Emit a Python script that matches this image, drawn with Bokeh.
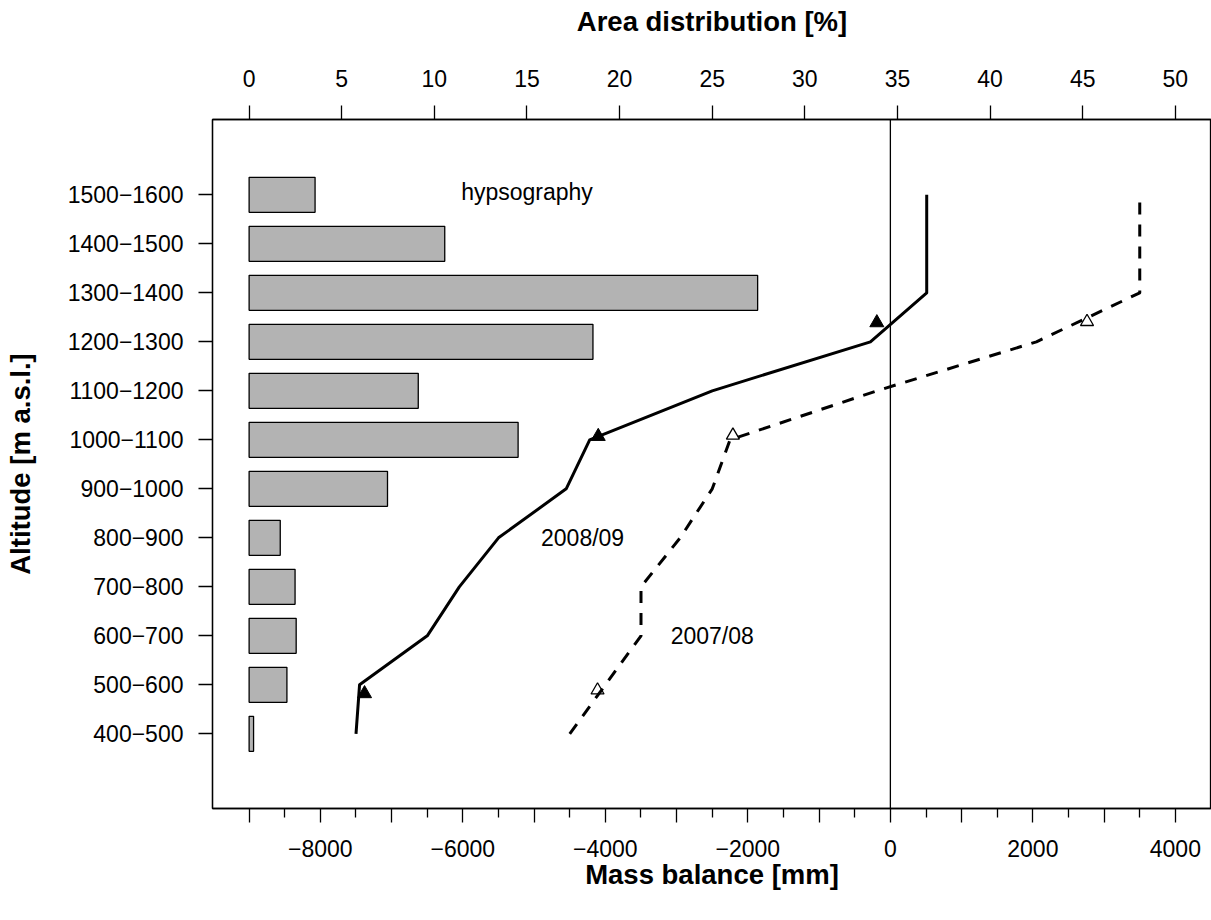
from bokeh.plotting import figure
from bokeh.models import Range1d, LinearAxis, FixedTicker, Span
from bokeh.core.properties import value
from bokeh.embed import file_html
from bokeh.resources import INLINE

# ---------------- data ----------------
band_labels = ["400\u2212500", "500\u2212600", "600\u2212700", "700\u2212800", "800\u2212900",
               "900\u22121000", "1000\u22121100", "1100\u22121200", "1200\u22121300",
               "1300\u22121400", "1400\u22121500", "1500\u22121600"]
band_mid = [450, 550, 650, 750, 850, 950, 1050, 1150, 1250, 1350, 1450, 1550]
area_pct = [0.24, 2.04, 2.54, 2.48, 1.68, 7.47, 14.52, 9.13, 18.56, 27.45, 10.56, 3.56]

mb_2008_09 = [-7500, -7450, -6500, -6050, -5500, -4550, -4220, -2500, -280, 510, 510, 510]
mb_2007_08 = [-4500, -4000, -3500, -3500, -2950, -2500, -2250, -190, 2050, 3500, 3500, 3500]

stake_alt_2008_09 = [532, 1057, 1289]
stake_mb_2008_09 = [-7380, -4100, -190]
stake_alt_2007_08 = [539, 1059, 1291]
stake_mb_2007_08 = [-4110, -2210, 2760]

mb_ticks = [-9000, -8000, -7000, -6000, -5000, -4000, -3000, -2000, -1000, 0, 1000, 2000, 3000, 4000]
mb_minor = [-8500, -7500, -6500, -5500, -4500, -3500, -2500, -1500, -500, 500, 1500, 2500, 3500]
mb_tick_labels = {-9000: "", -8000: "\u22128000", -7000: "", -6000: "\u22126000", -5000: "",
                  -4000: "\u22124000", -3000: "", -2000: "\u22122000", -1000: "", 0: "0",
                  1000: "", 2000: "2000", 3000: "", 4000: "4000"}
pct_ticks = [0, 5, 10, 15, 20, 25, 30, 35, 40, 45, 50]

FONT = "Liberation Sans"
X0, X1 = -9514, 4507  # mass balance range of the plot box

p = figure(width=1211, height=900, output_backend="svg", toolbar_location=None,
           x_range=Range1d(X0, X1), y_range=Range1d(297.6, 1703.7),
           min_border_left=212, min_border_right=0, min_border_top=119, min_border_bottom=92,
           background_fill_color="white", border_fill_color="white")
p.extra_x_ranges = {"pct": Range1d((X0 + 9000) / 260.0, (X1 + 9000) / 260.0)}
p.xgrid.visible = False
p.ygrid.visible = False
p.outline_line_color = "black"
p.outline_line_width = 1.3
p.outline_line_alpha = 1

def style_axis(ax, label, standoff, label_standoff):
    ax.axis_label = label
    ax.axis_label_text_font = FONT
    ax.axis_label_text_font_style = "bold"
    ax.axis_label_text_font_size = "27.5px"
    ax.axis_label_text_color = "black"
    ax.axis_label_standoff = label_standoff
    ax.major_label_text_font = FONT
    ax.major_label_text_font_size = "23px"
    ax.major_label_text_color = "black"
    ax.major_label_standoff = standoff
    ax.major_tick_in = 0
    ax.major_tick_out = 14
    ax.major_tick_line_color = "black"
    ax.major_tick_line_width = 1.3
    ax.minor_tick_in = 0
    ax.minor_tick_out = 9
    ax.minor_tick_line_color = "black"
    ax.minor_tick_line_width = 1.3
    ax.axis_line_color = "black"
    ax.axis_line_width = 1.3

# bottom axis (mass balance)
xa = p.xaxis[0]
xa.ticker = FixedTicker(ticks=mb_ticks, minor_ticks=mb_minor)
xa.major_label_overrides = mb_tick_labels
style_axis(xa, "Mass balance [mm]", 17, -1)

# left axis (altitude bands)
ya = p.yaxis[0]
ya.ticker = FixedTicker(ticks=band_mid)
ya.major_label_overrides = {m: l for m, l in zip(band_mid, band_labels)}
style_axis(ya, "Altitude [m a.s.l.]", 15, 29)
ya.minor_tick_out = 0

# top axis (area distribution)
ta = LinearAxis(x_range_name="pct", ticker=FixedTicker(ticks=pct_ticks))
style_axis(ta, "Area distribution [%]", 19, 30)
ta.minor_tick_out = 0
p.add_layout(ta, "above")

# hypsography bars
p.hbar(y=band_mid, left=0, right=area_pct, height=71.4, x_range_name="pct",
       fill_color="#B3B3B3", line_color="black", line_width=1.3)

# zero line
p.add_layout(Span(location=0, dimension="height", line_color="black", line_width=1.3))

# mass balance profiles
p.line(mb_2008_09, band_mid, line_color="black", line_width=3, line_join="round")
p.line(mb_2007_08, band_mid, line_color="black", line_width=3, line_join="round",
       line_dash="12 10", line_cap="butt")

# stake measurements
p.scatter(stake_mb_2008_09, stake_alt_2008_09, marker="triangle", size=14,
          fill_color="black", line_color="black", line_width=1)
p.scatter(stake_mb_2007_08, stake_alt_2007_08, marker="triangle", size=13,
          fill_color=None, line_color="black", line_width=1.3)

# annotations
p.text(x=[15 * 260.0 - 9000, -4320, -2500], y=[1555, 850, 650],
       text=["hypsography", "2008/09", "2007/08"],
       text_font=value(FONT), text_font_size=value("23px"), text_color="black",
       text_align="center", text_baseline="middle")

open("out.html", "w").write(file_html(p, INLINE))
